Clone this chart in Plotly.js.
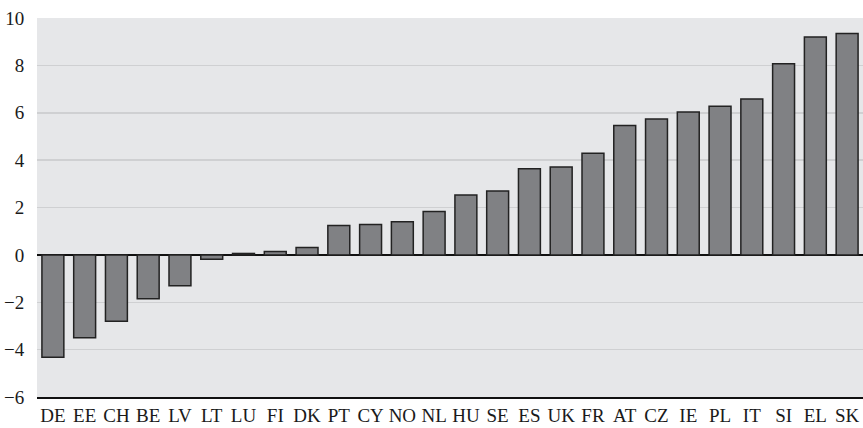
<!DOCTYPE html>
<html>
<head>
<meta charset="utf-8">
<script src="https://cdn.plot.ly/plotly-3.0.1.min.js"></script>
<style>html,body{margin:0;padding:0;background:#fff;}#chart{width:863px;height:428px;}</style>
</head>
<body>
<div id="chart"></div>
<script>
const countries = ["DE","EE","CH","BE","LV","LT","LU","FI","DK","PT","CY","NO","NL","HU","SE","ES","UK","FR","AT","CZ","IE","PL","IT","SI","EL","SK"];
const values = [-4.32,-3.5,-2.8,-1.85,-1.3,-0.18,0.06,0.14,0.31,1.24,1.28,1.4,1.83,2.53,2.7,3.64,3.71,4.29,5.46,5.74,6.03,6.27,6.58,8.07,9.2,9.35];
const yTicks = [-6,-4,-2,0,2,4,6,8,10];

const trace = {
  type: "bar",
  x: countries,
  y: values,
  marker: {color: "#808184", line: {color: "#222222", width: 1.5}},
  hoverinfo: "none"
};
const font = {family: "Liberation Serif", size: 19, color: "#1a1a1a"};
const layout = {
  width: 863, height: 428,
  margin: {l: 37, r: 0, t: 18, b: 31, pad: 0},
  paper_bgcolor: "#ffffff",
  plot_bgcolor: "#e6e7e9",
  bargap: 0.31,
  showlegend: false,
  font: font,
  xaxis: {
    type: "category",
    showgrid: false,
    showline: true, linecolor: "#111", linewidth: 1.5,
    ticks: "outside", ticklen: 1, tickcolor: "rgba(0,0,0,0)",
    tickfont: font,
    fixedrange: true
  },
  yaxis: {
    range: [-6, 10],
    tickvals: yTicks,
    showgrid: true, gridcolor: "#cfd0d2", gridwidth: 1.5,
    zeroline: true, zerolinecolor: "#111", zerolinewidth: 1.5,
    showline: false,
    ticks: "outside", ticklen: 8, tickcolor: "rgba(0,0,0,0)",
    tickfont: font,
    fixedrange: true
  }
};
Plotly.newPlot("chart", [trace], layout, {staticPlot: true, displayModeBar: false});
</script>
</body>
</html>
